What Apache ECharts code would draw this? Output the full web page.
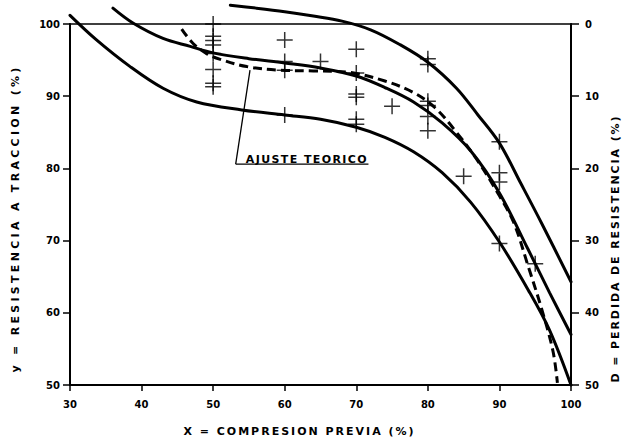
<!DOCTYPE html>
<html>
<head>
<meta charset="utf-8">
<script src="https://cdn.jsdelivr.net/npm/echarts@6/dist/echarts.min.js"></script>
<style>
html,body{margin:0;padding:0;background:#fff;}
#c{width:622px;height:441px;}
</style>
</head>
<body>
<div id="c"></div>
<script>
// ---- data ----
var xTicks = [30, 40, 50, 60, 70, 80, 90, 100];
var yTicks = [50, 60, 70, 80, 90, 100];
var dTicks = [0, 10, 20, 30, 40, 50];

// lower envelope (solid)
var curveLower = [[30,101.2],[33.7,97.8],[38.4,94.1],[43,91.1],[47.7,89.2],[54,88.1],[60,87.4],[65,86.8],[70,85.7],[74,84.3],[78,82.3],[82,79.4],[86,75.3],[90,69.8],[94,63.2],[97,57.6],[100,50.0]];
// middle curve (solid)
var curveMiddle = [[36,102.2],[38.85,100.1],[43,98.0],[46.8,96.9],[50,96.0],[55,95.2],[60,94.6],[65,93.9],[70,92.8],[74,91.2],[78,89.2],[82,86.3],[86,82.4],[90,76.6],[94,68.8],[97,62.8],[100,57.0]];
// upper envelope (solid)
var curveUpper = [[52.4,102.6],[56,102.2],[60,101.7],[64,101.1],[68,100.4],[72,99.2],[76,97.2],[80,94.7],[84,91.1],[87,87.4],[90,83.5],[93,77.9],[96,72.2],[100,64.3]];
// theoretical fit (dashed)
var curveFit = [[45.6,99.3],[47.2,97.3],[49.1,95.9],[51,95.1],[54.7,94.1],[59.3,93.6],[64,93.5],[69,93.3],[74,92.1],[78,90.5],[81,88.4],[84,85.0],[87,81.0],[90,76.2],[92,72.5],[94,66.5],[96,60.2],[97.5,54.6],[98.1,50.3]];

// measured points (+)
var pointsX = [50,50,50,50,50,50,50,50, 60,60,60,60, 65, 70,70,70,70,70,70, 75, 80,80,80,80,80,80, 85, 90,90,90,90, 95];
var pointsY = [100,98.3,97.7,97.1,95.9,93.7,91.8,91.3, 97.8,94.8,93.6,87.4, 94.8, 96.5,93.2,90.3,89.85,86.8,86.1, 88.6, 95.2,94.4,89.3,88.7,87.2,85.2, 78.9, 83.7,79.4,78.1,69.6, 66.8];

// annotation
var noteText = 'AJUSTE TEORICO';
var noteUnderline = [[53.15,80.6],[71.7,80.6]];
var noteArrow = [[53.15,80.6],[55.15,93.6]];
var noteTextAt = [63.1,81.3];

var xTitle = 'X = COMPRESION PREVIA (%)';
var yTitle = 'y = RESISTENCIA A TRACCION (%)';
var dTitle = 'D = PERDIDA DE RESISTENCIA (%)';

// ---- chart ----
var FONT = 'DejaVu Sans';
var lblStyle = {color:'#000', fontFamily:FONT, fontWeight:'bold', fontSize:10};
function titleStyle(pad){
  return {color:'#000', fontFamily:FONT, fontWeight:'bold', fontSize:11, padding:pad};
}

var points = pointsX.map(function(x,i){return [x, pointsY[i]];});
var crossPath = 'path://M14.5,0 H17.5 V32 H14.5 Z M0,14.5 H32 V17.5 H0 Z';

function solid(data){
  return {type:'line', data:data, smooth:0.35, symbol:'none', clip:false, silent:true,
    lineStyle:{color:'#000', width:3, cap:'round'}, z:3};
}

var chart = echarts.init(document.getElementById('c'), null, {renderer:'svg'});
chart.setOption({
  animation:false,
  backgroundColor:'#fff',
  grid:{left:70, right:51, top:24, bottom:56, containLabel:false, outerBoundsMode:'none',
    show:true, borderColor:'#000', borderWidth:1.5, backgroundColor:'transparent'},
  xAxis:{type:'value', min:30, max:100, interval:10,
    name:xTitle, nameLocation:'middle', nameGap:41, nameTextStyle:titleStyle([0,42,0,0]),
    axisLine:{show:true, onZero:false, lineStyle:{color:'#000', width:2}},
    axisTick:{show:true, inside:false, length:6, lineStyle:{color:'#000', width:1.5}},
    axisLabel:{margin:14, formatter:function(v){return xTicks.indexOf(v)>=0?String(v):'';}, ...lblStyle},
    splitLine:{show:false}},
  yAxis:[
    {type:'value', min:50, max:100, interval:10, position:'left',
      name:yTitle, nameLocation:'middle', nameRotate:90, nameGap:49, nameTextStyle:titleStyle([0,28,0,0]),
      axisLine:{show:true, onZero:false, lineStyle:{color:'#000', width:2}},
      axisTick:{show:true, inside:false, length:7, lineStyle:{color:'#000', width:1.5}},
      axisLabel:{margin:10, formatter:function(v){return yTicks.indexOf(v)>=0?String(v):'';}, ...lblStyle},
      splitLine:{show:false}},
    {type:'value', min:0, max:50, interval:10, inverse:true, position:'right',
      name:dTitle, nameLocation:'middle', nameRotate:90, nameGap:38, nameTextStyle:titleStyle([0,88,0,0]),
      axisLine:{show:true, onZero:false, lineStyle:{color:'#000', width:2}},
      axisTick:{show:true, inside:false, length:8, lineStyle:{color:'#000', width:1.5}},
      axisLabel:{margin:14, formatter:function(v){return dTicks.indexOf(v)>=0?String(v):'';}, ...lblStyle},
      splitLine:{show:false}}
  ],
  series:[
    solid(curveLower),
    solid(curveMiddle),
    solid(curveUpper),
    {type:'line', data:curveFit, smooth:0.35, symbol:'none', clip:false, silent:true,
      lineStyle:{color:'#000', width:3, type:[9,5]}, z:3},
    {type:'scatter', data:points, symbol:crossPath, symbolSize:16, clip:false, silent:true,
      itemStyle:{color:'#000'}, z:4},
    {type:'line', data:noteUnderline, symbol:'none', silent:true, clip:false,
      lineStyle:{color:'#000', width:1.3}, z:2,
      markLine:{silent:true, symbol:['none','arrow'], symbolSize:[0,7], animation:false,
        lineStyle:{color:'#000', width:1.3, type:'solid'}, label:{show:false},
        data:[[{coord:noteArrow[0]},{coord:noteArrow[1]}]]},
      markPoint:{silent:true, symbol:'circle', symbolSize:0,
        label:{show:true, position:'inside', formatter:noteText, color:'#000', fontFamily:FONT, fontWeight:'bold', fontSize:11},
        data:[{coord:noteTextAt}]}}
  ]
});

// wide letter tracking of the typed titles, as in the reference
var tracking = {};
tracking[xTitle] = '2';
tracking[yTitle] = '3.3';
tracking[dTitle] = '1.9';
tracking[noteText] = '1.4';
function applyTracking(){
  var texts = document.querySelectorAll('#c svg text');
  for (var i=0;i<texts.length;i++){
    var t = texts[i];
    var s = t.textContent;
    if (tracking[s]) t.setAttribute('letter-spacing', tracking[s]);
  }
}
applyTracking();
chart.on('finished', applyTracking);
setTimeout(applyTracking, 0);
</script>
</body>
</html>
